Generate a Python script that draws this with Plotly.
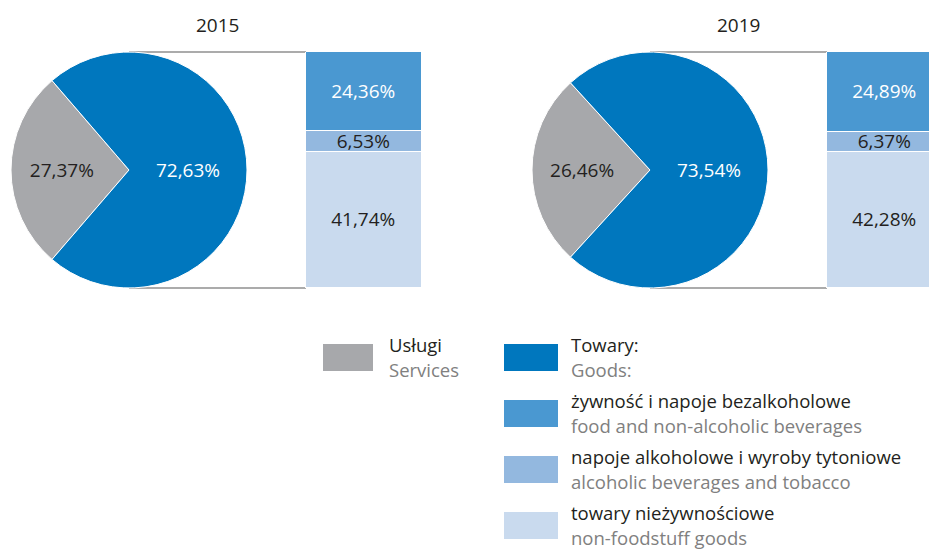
import plotly.graph_objects as go

W, H = 929, 553

# ---- data ----
years = ["2015", "2019"]
services = [27.37, 26.46]
goods = [72.63, 73.54]
food = [24.36, 24.89]
alcohol = [6.53, 6.37]
nonfood = [41.74, 42.28]

pie_labels = ["Usługi", "Towary"]
legend_pl = ["Usługi", "Towary:", "żywność i napoje bezalkoholowe",
             "napoje alkoholowe i wyroby tytoniowe", "towary nieżywnościowe"]
legend_en = ["Services", "Goods:", "food and non-alcoholic beverages",
             "alcoholic beverages and tobacco", "non-foodstuff goods"]

# ---- style ----
C_SERV = "#A7A8AB"
C_GOODS = "#0077BE"
C_FOOD = "#4A98D1"
C_ALC = "#93B8DF"
C_NONFOOD = "#C9DAEE"
DARK = "#231F20"
GREYTXT = "#808080"
LINE = "#8F8F8F"
FONT = "Open Sans"

legend_colors = [C_SERV, C_GOODS, C_FOOD, C_ALC, C_NONFOOD]

# ---- layout geometry (pixels) ----
pie_cx = [129, 650]
pie_cy = 170
R = 118
bar_left = [306, 827]
bar_w = 116
top_px, bot_px = pie_cy - R, pie_cy + R


def fmt(v):
    return f"{v:.2f}".replace(".", ",") + "%"


def py(p):
    return 1 - p / H


fig = go.Figure()

# pies
for i, yr in enumerate(years):
    share = services[i] / (services[i] + goods[i])
    fig.add_trace(go.Pie(
        labels=pie_labels,
        values=[services[i], goods[i]],
        sort=False,
        direction="clockwise",
        rotation=270 - share * 360 / 2,
        marker=dict(colors=[C_SERV, C_GOODS], line=dict(color="white", width=1)),
        text=[fmt(services[i]), fmt(goods[i])],
        textinfo="text",
        textposition="inside",
        insidetextorientation="horizontal",
        textfont=dict(family=FONT, size=19, color=[DARK, "white"]),
        domain=dict(x=[(pie_cx[i] - R) / W, (pie_cx[i] + R) / W],
                    y=[py(bot_px), py(top_px)]),
        showlegend=False,
        hoverinfo="label+text",
    ))

# stacked bars (bottom to top: non-food, alcohol, food)
segments = [(nonfood, C_NONFOOD, DARK), (alcohol, C_ALC, DARK), (food, C_FOOD, "white")]
for i, yr in enumerate(years):
    yax = "y" if i == 0 else "y2"
    for vals, col, tcol in segments:
        fig.add_trace(go.Bar(
            x=[bar_left[i] + bar_w / 2],
            y=[vals[i]],
            width=[bar_w],
            xaxis="x",
            yaxis=yax,
            marker=dict(color=col, line=dict(color="white", width=1.5)),
            text=[fmt(vals[i])],
            textposition="inside",
            insidetextanchor="middle",
            textangle=0,
            constraintext="none",
            textfont=dict(family=FONT, size=19, color=tcol),
            showlegend=False,
            hoverinfo="text",
        ))

shapes = []
annotations = []

# connector lines and titles
for i, yr in enumerate(years):
    for yp in (top_px, bot_px):
        shapes.append(dict(type="line", xref="x", yref="paper",
                           x0=pie_cx[i], x1=bar_left[i], y0=py(yp), y1=py(yp),
                           line=dict(color=LINE, width=1.3), layer="below"))
    annotations.append(dict(text=yr, xref="x", yref="paper",
                            x=(pie_cx[i] + bar_left[i]) / 2, y=py(25),
                            showarrow=False, xanchor="center", yanchor="middle",
                            font=dict(family=FONT, size=19, color=DARK)))

# custom legend
box_x = [323, 504, 504, 504, 504]
box_w = [50, 54, 54, 54, 54]
box_top = [344, 344, 400, 456, 512]
box_h = 27
text_x = [387, 569, 569, 569, 569]
for k in range(len(legend_pl)):
    shapes.append(dict(type="rect", xref="x", yref="paper",
                       x0=box_x[k], x1=box_x[k] + box_w[k],
                       y0=py(box_top[k] + box_h), y1=py(box_top[k]),
                       fillcolor=legend_colors[k], line=dict(width=0)))
    annotations.append(dict(text=legend_pl[k], xref="x", yref="paper",
                            x=text_x[k], y=py(box_top[k]),
                            showarrow=False, xanchor="left", yanchor="middle",
                            font=dict(family=FONT, size=18.5, color=DARK)))
    annotations.append(dict(text=legend_en[k], xref="x", yref="paper",
                            x=text_x[k], y=max(py(box_top[k] + 40), 0),
                            showarrow=False, xanchor="left", yanchor="bottom",
                            font=dict(family=FONT, size=18.5, color=GREYTXT)))

ydom = [py(bot_px), py(top_px)]
fig.update_layout(
    width=W, height=H,
    margin=dict(l=0, r=0, t=0, b=0),
    paper_bgcolor="white", plot_bgcolor="rgba(0,0,0,0)",
    barmode="stack", bargap=0,
    xaxis=dict(range=[0, W], domain=[0, 1], visible=False, fixedrange=True),
    yaxis=dict(range=[0, goods[0]], domain=ydom, visible=False, fixedrange=True),
    yaxis2=dict(range=[0, goods[1]], overlaying="y", visible=False, fixedrange=True),
    shapes=shapes,
    annotations=annotations,
    showlegend=False,
)

fig.write_html("out.html", config={"displayModeBar": False},
               post_script="document.body.style.margin='0';document.body.style.overflow='hidden';")
